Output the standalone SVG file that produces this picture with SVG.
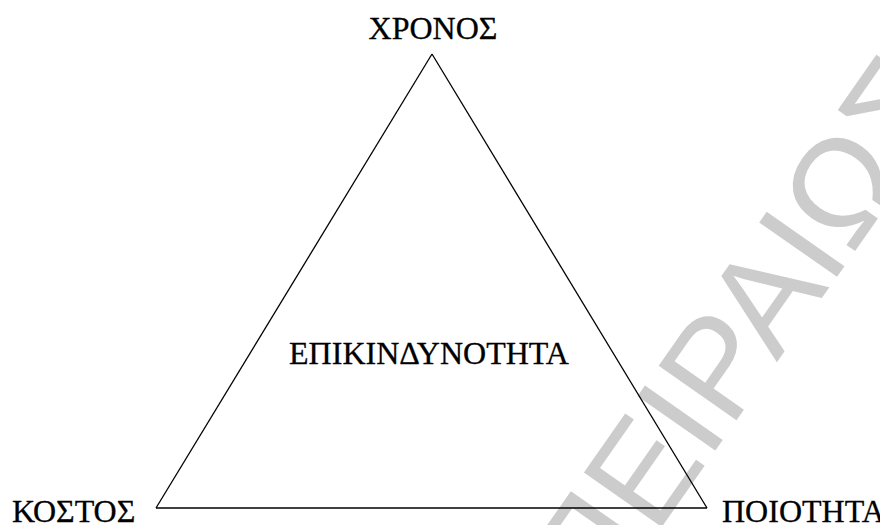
<svg xmlns="http://www.w3.org/2000/svg" width="880" height="525" viewBox="0 0 880 525">
<style>
.lbl{font-family:"Liberation Serif","Times New Roman",serif;font-size:32px;fill:#000;stroke:#000;stroke-width:0.3}
.wm{font-family:"Liberation Sans",Arial,sans-serif;font-size:138px;fill:#cccccc}
.edge{fill:none;stroke:#000;stroke-width:1.3}
</style>
<rect width="880" height="525" fill="#fff"/>
<g id="watermark">
<text class="wm" transform="translate(598,618) rotate(-55)">ΠΕΙΡΑΙΩΣ</text>
</g>
<g id="connectors">
<line class="edge" x1="432" y1="54" x2="156" y2="508"/>
<line class="edge" x1="432" y1="54" x2="707" y2="508"/>
<line class="edge" x1="156" y1="508" x2="707" y2="508"/>
</g>
<g id="node-xronos"><text class="lbl" x="433" y="39" text-anchor="middle">ΧΡΟΝΟΣ</text></g>
<g id="node-kostos"><text class="lbl" x="12" y="522">ΚΟΣΤΟΣ</text></g>
<g id="node-poiotita"><text class="lbl" x="722" y="522">ΠΟΙΟΤΗΤΑ</text></g>
<g id="node-center"><text class="lbl" x="429" y="364" text-anchor="middle">ΕΠΙΚΙΝΔΥΝΟΤΗΤΑ</text></g>
</svg>
